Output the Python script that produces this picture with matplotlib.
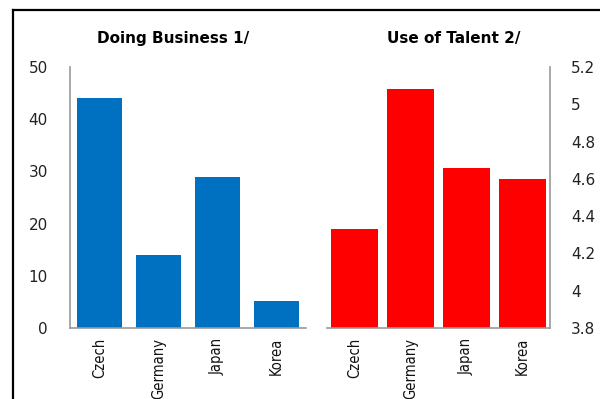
import matplotlib
matplotlib.use("Agg")
import matplotlib.pyplot as plt
from matplotlib.lines import Line2D

categories = ["Czech", "Germany", "Japan", "Korea"]
doing_business = [44.1, 14.0, 29.0, 5.2]
use_of_talent = [4.33, 5.08, 4.66, 4.60]
left_ticks = [0, 10, 20, 30, 40, 50]
right_ticks = [3.8, 4.0, 4.2, 4.4, 4.6, 4.8, 5.0, 5.2]
right_tick_labels = ["3.8", "4", "4.2", "4.4", "4.6", "4.8", "5", "5.2"]

fig = plt.figure(figsize=(6, 3.99), dpi=100)
fig.patch.set_facecolor("white")

tick_font = "DejaVu Sans"

axL = fig.add_axes([70/600, 1-328/399, 236/600, 261/399])
axR = fig.add_axes([327/600, 1-328/399, 223/600, 261/399])

x = range(len(categories))


def style_cats(ax):
    ax.set_xticks(list(x))
    ax.set_xticklabels(categories, rotation=90, fontsize=10.5, family="DejaVu Sans",
                       fontstretch="condensed", color="#111111")


axL.bar(x, doing_business, width=0.77, color="#0070C0")
axL.set_xlim(-0.5, 3.5)
axL.set_ylim(0, 50)
axL.set_yticks(left_ticks)
axL.set_yticklabels([str(t) for t in left_ticks], fontsize=11, family=tick_font, color="#222222")
style_cats(axL)
for s in ["top", "right"]:
    axL.spines[s].set_visible(False)
for s in ["left", "bottom"]:
    axL.spines[s].set_color("#999999")
    axL.spines[s].set_linewidth(1.2)
axL.tick_params(axis="both", length=0)
axL.tick_params(axis="x", pad=7)
axL.tick_params(axis="y", pad=16)
axL.set_title("Doing Business 1/", fontsize=11, fontweight="bold", pad=17, x=0.436)

axR.bar(x, use_of_talent, width=0.84, color="#FF0000")
axR.set_xlim(-0.5, 3.5)
axR.set_ylim(3.8, 5.2)
axR.yaxis.tick_right()
axR.set_yticks(right_ticks)
axR.set_yticklabels(right_tick_labels, fontsize=11, family=tick_font, color="#222222")
style_cats(axR)
for s in ["top", "left"]:
    axR.spines[s].set_visible(False)
for s in ["right", "bottom"]:
    axR.spines[s].set_color("#999999")
    axR.spines[s].set_linewidth(1.2)
axR.tick_params(axis="both", length=0)
axR.tick_params(axis="x", pad=7)
axR.tick_params(axis="y", pad=15)
axR.set_title("Use of Talent 2/", fontsize=11, fontweight="bold", pad=17, x=0.57)

# outer frame (left and top edges visible)
fig.add_artist(Line2D([13/600, 13/600], [0, 1-10/399], transform=fig.transFigure, color="black", lw=1.6))
fig.add_artist(Line2D([13/600, 1], [1-10/399, 1-10/399], transform=fig.transFigure, color="black", lw=1.6))

fig.savefig("out.png", dpi=100)
